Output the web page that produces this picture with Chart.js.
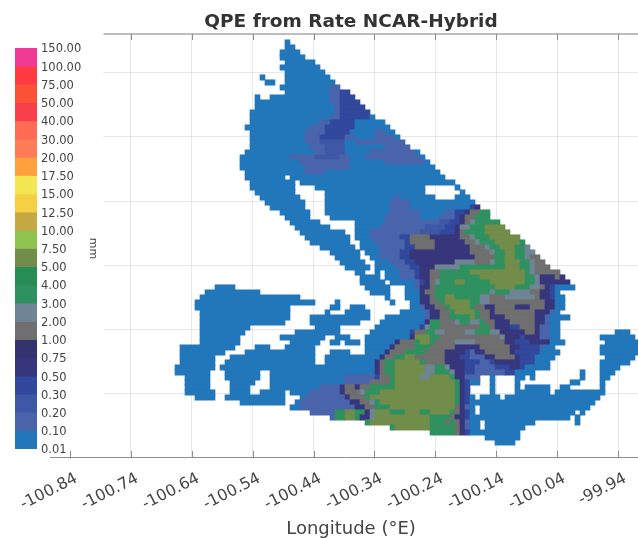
<!DOCTYPE html>
<html>
<head>
<meta charset="utf-8">
<title>QPE from Rate NCAR-Hybrid</title>
<script src="https://cdn.jsdelivr.net/npm/chart.js@4"></script>
<style>
    html, body { margin: 0; padding: 0; background: #fff; }
    #wrap { position: relative; width: 638px; height: 538px; overflow: hidden; font-family: "DejaVu Sans", sans-serif; filter: blur(0.4px); }
    canvas { position: absolute; left: 0; top: 0; }
    #title { position: absolute; left: 351px; top: 10px; transform: translateX(-50%); white-space: nowrap; font-weight: bold; font-size: 18.5px; color: #333; }
    #xlabel { position: absolute; left: 351px; top: 517px; transform: translateX(-50%); white-space: nowrap; font-size: 18px; color: #444; }
</style>
</head>
<body>
<div id="wrap">
    <canvas id="map" width="638" height="538"></canvas>
    <canvas id="bar" width="102" height="538"></canvas>
    <div id="title">QPE from Rate NCAR-Hybrid</div>
    <div id="xlabel">Longitude (°E)</div>
</div>
<script>
// colour bins, bottom to top
const binEdges = ['0.01', '0.10', '0.20', '0.30', '0.50', '0.75', '1.00', '2.00', '3.00', '4.00', '5.00', '7.50',
    '10.00', '12.50', '15.00', '17.50', '20.00', '30.00', '40.00', '50.00', '75.00', '100.00', '150.00'];
const binColors = ['#2276ba', '#4a64ac', '#3e58a6', '#32489c', '#37367d', '#33346f', '#6f6f6f', '#6f8596', '#2f9160',
    '#258d55', '#728c4a', '#8fc24f', '#c6a843', '#f6d044', '#f3e853', '#ffa03c', '#ff7c58', '#ff6b55',
    '#f9404a', '#fb5238', '#ff3a40', '#ef3b94'];
const binLetters = 'abcdefghijk';

const lonTicks = [-100.84, -100.74, -100.64, -100.54, -100.44, -100.34, -100.24, -100.14, -100.04, -99.94];
const latTicks = [41.3, 41.2, 41.1, 41.0, 40.9, 40.8];

// radar grid
const lonStart = -100.67525;
const lonStep = 0.008197;
const latStart = 41.3459;
const latStep = 0.007776;

// one string per grid row, north to south: "<column><bin>" runs, "." = no data
const qpeRows = [
    '23a 24.',
    '23a 25.',
    '22a 26.',
    '22a 27.',
    '23a 29.',
    '22a 30.',
    '23a 31.',
    '18a 19. 23a 32.',
    '19a 21. 23a 33.',
    '22a 32b 34.',
    '23a 32b 34d 36.',
    '17a 18. 20a 32b 34d 37.',
    '17a 32b 34d 38.',
    '17a 33b 34d 39.',
    '16a 33b 34d 40.',
    '16a 32b 34d 40a 41.',
    '16a 30b 32d 37a 43.',
    '15a 28b 31d 37a 44.',
    '16a 27b 31d 36a 41b 43a 45.',
    '16a 27b 30d 35b 37a 41b 45a 46.',
    '16a 27b 30c 35a 37b 47.',
    '16a 28b 31c 35a 43b 48.',
    '15a 29b 31c 35a 40b 49a 50.',
    '14a 24b 29c 34b 36a 39b 50a 51.',
    '14a 26b 36a 43b 51a 52.',
    '14a 27b 36a 53.',
    '15a 27b 31a 54.',
    '15a 23. 24a 55.',
    '16a 25. 26a 57.',
    '16a 25. 29a 51. 57a 58.',
    '17a 25. 31a 51. 58a 59.',
    '18a 26. 31a 45b 46a 53. 57a 60.',
    '19a 27. 31a 44b 48a 61.',
    '20a 27. 31a 44b 48a 60d 61e 62.',
    '22a 28. 31a 44b 50a 55b 57d 59e 60g 62i 64.',
    '23a 28. 32a 43b 50a 54b 57d 58e 59g 61i 64.',
    '24a 30. 37a 43b 54c 56d 58e 59g 60h 61i 66.',
    '25a 32. 37a 42b 51c 55d 57e 58h 60i 63k 67.',
    '26a 35. 37a 40b 50c 54d 57e 58g 59i 63k 68.',
    '27a 36. 37a 40b 46d 48g 52e 58g 60h 61i 64k 70.',
    '28a 36. 38a 41b 47d 48g 53e 59g 61h 62i 65k 70i 71.',
    '30a 37. 38a 42b 47d 49g 53e 60g 63h 64i 66k 69i 71h 72.',
    '32a 38. 39a 42b 46d 48e 60g 64h 65i 67k 69i 71h 73.',
    '33a 38. 40a 42b 46d 48e 61g 65i 67k 69i 71h 72g 74.',
    '34a 39. 41a 44b 47d 49e 57h 61g 64h 65i 67k 70i 72h 73g 75.',
    '35a 40. 41a 45b 48d 50e 53h 58i 67k 70i 72h 73g 76.',
    '37a 39. 41a 42. 43a 46b 49d 50e 52g 54i 60k 71i 72h 73g 78.',
    '38a 42. 43a 46b 49d 50e 52g 54i 62k 71i 73h 74e 77g 78e 79.',
    '38a 43. 44a 49b 50d 51e 52g 53h 54i 57k 59i 64k 71i 73h 74e 80.',
    '9a 13. 39a 44. 47a 49b 50e 52g 53i 65k 69i 72h 74g 75e 76d 77a 81.',
    '7a 18. 40a 44. 47a 50e 51g 53i 64h 65i 68h 72g 74e 76d 77a 78.',
    '6a 26. 43a 44. 47a 50e 52g 53i 55k 57i 62h 64g 67h 73g 74e 76d 77a 79.',
    '5a 29. 33a 34. 44a 45. 48a 50e 52g 54i 55k 60i 62h 64g 75e 77a 79.',
    '5a 24. 32a 34. 36a 39. 48a 50b 51e 53g 55i 56k 60i 61g 63e 65g 69e 72g 75e 77a 79.',
    '6a 24. 31a 32. 35a 40. 46a 51b 52e 54g 56i 57k 61i 62g 64e 65g 73e 76b 77a 78.',
    '6a 24. 28a 40. 43a 51b 52e 54g 56i 60k 61i 62g 64e 67g 73e 75b 76a 80.',
    '6a 23. 28a 38. 42a 51e 52i 54g 57h 58i 60h 62i 63g 65e 68g 73e 75b 76a 78.',
    '6a 16. 29a 34. 41a 50d 51h 52i 54g 62i 64g 65e 68d 70g 73e 74b 76a 78.',
    '6a 15. 25a 34. 40a 48d 49g 51i 53h 55g 59h 61i 64h 66e 71g 73e 74b 76a 78. 89a 92.',
    '6a 14. 22a 31. 33a 36. 39a 48e 49k 52i 54g 66h 67e 70d 71e 74b 76a 78. 86a 93.',
    '6a 14. 24a 30. 32a 34. 35a 38. 39a 45e 46g 49i 50k 52i 53g 57h 61g 67e 69d 72e 76a 79. 87a 94.',
    '2a 13. 17a 20. 23a 29. 39a 44e 45g 49i 52g 57e 62g 68e 70d 74b 75a 77. 86a 94.',
    '2a 11. 15a 29. 32a 36. 39a 43e 44g 47i 51g 55e 59d 60b 61e 63g 68e 69d 74a 78. 86a 94.',
    '2a 9. 12a 29. 31a 42e 43g 45i 47k 49g 55e 58d 60b 63e 65g 69e 70d 73a 77. 87a 93.',
    '2a 9. 11a 29. 31a 41e 42g 43i 45k 50i 51g 55e 59d 62b 64d 65e 70d 73a 76. 86a 92.',
    '1a 9. 10a 41e 42g 43i 45k 51h 53i 55h 56e 59d 61b 65d 68e 70d 71a 76. 86a 90.',
    '1a 8. 11a 18. 20a 41e 42g 43i 45k 51h 53i 56h 57e 59d 61b 67d 69a 73. 82a 83. 86a 89.',
    '3a 8. 11a 18. 20a 35b 41d 42g 44i 45k 50h 52k 56i 57e 59b 62. 64a 65. 69a 71. 72a 73. 82a 83. 86a 88.',
    '3a 8. 12a 17. 20a 35b 40g 44i 45k 57i 58e 59d 60a 62. 64a 65. 69a 70. 80a 82. 86a 87.',
    '3a 8. 12a 16. 20a 30b 34e 35g 37e 38g 40i 45k 57i 58e 59d 60. 64a 65. 69a 70. 71a 76. 78a 80. 86a 87.',
    '3a 9. 12a 16. 18a 23. 24a 28b 34e 35g 38h 39i 42k 57i 58e 59d 60. 64a 65. 69a 76. 77a 87.',
    '5a 9. 11a 23. 26a 27b 35e 36g 39i 40k 57i 58e 59d 60a 61. 62a 66. 67a 86.',
    '14a 23. 25a 26b 36e 38g 40h 41i 42k 57i 58e 59d 60a 85.',
    '24a 26b 37e 39g 41i 44k 57g 58e 59b 60a 61. 62a 84.',
    '28b 33i 35k 37i 39e 40h 41k 44i 47k 50i 52k 56i 57g 58e 59d 60a 61. 62a 81. 82a 83.',
    '32b 33i 35k 37i 38e 40h 41k 52i 56g 57e 59d 60a 80. 81a 82.',
    '39i 40k 52i 55g 56i 57g 58e 59b 60a 62. 63a 73. 81a 82.',
    '44i 45k 52i 57g 58e 59b 60a 62. 63a 71.',
    '52i 57g 58e 59d 60a 70.',
    '63a 70.',
    '65a 69.',
];

// turn the row strings into floating horizontal bars
const runs = [];
qpeRows.forEach((row, r) => {
    const tokens = [...row.matchAll(/(\d+)([a-k.])/g)];
    tokens.forEach((token, i) => {
        if (token[2] === '.') {
            return;
        }
        runs.push({
            x: [lonStart + Number(token[1]) * lonStep, lonStart + Number(tokens[i + 1][1]) * lonStep],
            y: latStart - r * latStep,
            bin: binLetters.indexOf(token[2]),
        });
    });
});

const lonMin = -100.87197;
const lonMax = -99.90803;
const latMax = 41.3591;
const latMin = 40.7012;
const frameLon = -100.7843;

const axisColor = '#8c8c8c';
const gridColor = 'rgba(0, 0, 0, 0.09)';

const framePlugin = {
    id: 'frame',
    beforeDatasetsDraw(chart) {
        const { ctx, chartArea, scales } = chart;
        const left = scales.x.getPixelForValue(frameLon);
        ctx.save();
        ctx.strokeStyle = gridColor;
        ctx.lineWidth = 1;
        scales.y.ticks.forEach((tick) => {
            const y = Math.round(scales.y.getPixelForValue(tick.value)) + 0.5;
            ctx.beginPath();
            ctx.moveTo(left, y);
            ctx.lineTo(chartArea.right, y);
            ctx.stroke();
        });
        ctx.restore();
    },
    afterDatasetsDraw(chart) {
        const { ctx, chartArea, scales } = chart;
        const left = scales.x.getPixelForValue(frameLon);
        ctx.save();
        ctx.strokeStyle = '#a8a8a8';
        ctx.lineWidth = 1.5;
        ctx.beginPath();
        ctx.moveTo(left, chartArea.top);
        ctx.lineTo(chartArea.right, chartArea.top);
        ctx.stroke();
        ctx.strokeStyle = axisColor;
        ctx.lineWidth = 1;
        scales.x.ticks.forEach((tick, i) => {
            const x = Math.round(scales.x.getPixelForValue(tick.value)) + 0.5;
            ctx.beginPath();
            ctx.moveTo(x, chartArea.bottom);
            ctx.lineTo(x, chartArea.bottom - 6);
            if (i > 0) {
                ctx.moveTo(x, chartArea.top);
                ctx.lineTo(x, chartArea.top + 6);
            }
            ctx.stroke();
        });
        ctx.restore();
    },
};

new Chart(document.getElementById('map'), {
    type: 'bar',
    data: {
        datasets: [{
            data: runs,
            backgroundColor: (context) => binColors[context.raw ? context.raw.bin : 0],
            borderWidth: 0,
            barThickness: 5.4,
        }],
    },
    options: {
        indexAxis: 'y',
        responsive: false,
        animation: false,
        layout: { padding: { left: 50, right: 0, top: 34, bottom: 0 } },
        plugins: { legend: { display: false }, tooltip: { enabled: false } },
        scales: {
            x: {
                type: 'linear',
                min: lonMin,
                max: lonMax,
                afterBuildTicks: (scale) => { scale.ticks = lonTicks.map((value) => ({ value })); },
                afterFit: (scale) => {
                    scale.height = 81;
                    scale.paddingLeft = 0;
                    scale.paddingRight = 0;
                },
                grid: {
                    color: (context) => (context.index === 0 ? 'transparent' : gridColor),
                    drawTicks: false,
                },
                border: { color: axisColor },
                ticks: {
                    autoSkip: false,
                    minRotation: 27,
                    maxRotation: 27,
                    padding: 12,
                    labelOffset: 7,
                    color: '#444',
                    font: { family: '"DejaVu Sans"', size: 16 },
                    callback: (value) => value.toFixed(2),
                },
            },
            y: {
                type: 'linear',
                offset: false,
                min: latMin,
                max: latMax,
                afterBuildTicks: (scale) => { scale.ticks = latTicks.map((value) => ({ value })); },
                grid: { display: false, drawTicks: false },
                border: { display: false },
                ticks: { display: false },
            },
        },
    },
    plugins: [framePlugin],
});

new Chart(document.getElementById('bar'), {
    type: 'bar',
    data: {
        datasets: [{
            data: binColors.map((color, i) => ({ x: 0.5, y: [i, i + 1] })),
            backgroundColor: binColors,
            borderWidth: 0,
            barThickness: 22,
        }],
    },
    options: {
        responsive: false,
        animation: false,
        layout: { padding: { left: 15, right: 0, top: 48, bottom: 89 } },
        plugins: { legend: { display: false }, tooltip: { enabled: false } },
        scales: {
            x: { type: 'linear', offset: false, min: 0, max: 1, display: false },
            y: {
                type: 'linear',
                position: 'right',
                min: 0,
                max: binEdges.length - 1,
                afterBuildTicks: (scale) => { scale.ticks = binEdges.map((edge, i) => ({ value: i })); },
                afterFit: (scale) => { scale.width = 65; },
                grid: { display: false, drawTicks: false },
                border: { display: false },
                title: { display: true, text: 'mm', color: '#444', font: { family: '"DejaVu Sans"', size: 11 }, padding: 3 },
                ticks: {
                    autoSkip: false,
                    padding: 4,
                    labelOffset: 1.5,
                    color: '#444',
                    font: { family: '"DejaVu Sans"', size: 11.5 },
                    callback: (value) => binEdges[value],
                },
            },
        },
    },
});
</script>
</body>
</html>
